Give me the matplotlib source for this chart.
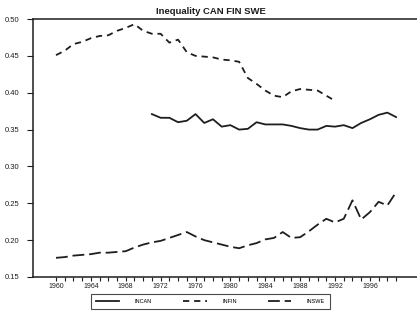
import matplotlib
matplotlib.use("Agg")
import matplotlib.pyplot as plt
from matplotlib.ticker import FixedLocator, MultipleLocator, FormatStrFormatter

plt.rcParams['font.family'] = ['Liberation Sans', 'DejaVu Sans']
plt.rcParams['lines.scale_dashes'] = False

years_fin = list(range(1960, 1993))
fin = [0.451, 0.457, 0.466, 0.469, 0.474, 0.477, 0.478, 0.484, 0.488, 0.493,
       0.484, 0.480, 0.480, 0.468, 0.472, 0.455, 0.450, 0.449, 0.448, 0.445,
       0.444, 0.442, 0.420, 0.412, 0.403, 0.396, 0.394, 0.402, 0.405, 0.404,
       0.403, 0.396, 0.389]

years_can = list(range(1971, 2000))
can = [0.371, 0.366, 0.366, 0.360, 0.362, 0.371, 0.359, 0.364, 0.354, 0.356,
       0.350, 0.351, 0.360, 0.357, 0.357, 0.357, 0.355, 0.352, 0.350, 0.350,
       0.355, 0.354, 0.356, 0.352, 0.359, 0.364, 0.370, 0.373, 0.367]

years_swe = list(range(1960, 2000))
swe = [0.176, 0.177, 0.179, 0.180, 0.181, 0.183, 0.183, 0.184, 0.185, 0.190,
       0.194, 0.197, 0.199, 0.203, 0.207, 0.211, 0.205, 0.200, 0.197, 0.194,
       0.191, 0.189, 0.193, 0.196, 0.201, 0.203, 0.211, 0.203, 0.204, 0.212,
       0.221, 0.229, 0.224, 0.229, 0.254, 0.228, 0.238, 0.252, 0.247, 0.265]

major_years = list(range(1960, 1997, 4))
minor_years = list(range(1960, 2000))

fig = plt.figure(figsize=(4.17, 3.12), dpi=100)
ax = fig.add_axes([0.0791, 0.1122, 0.9209, 0.8268])

col = '#1e1e1e'
ax.plot(years_can, can, color=col, lw=1.3, label='INCAN')
ax.plot(years_fin, fin, color=col, lw=1.3, linestyle=(0, (4.5, 3.5)), label='INFIN')
ax.plot(years_swe, swe, color=col, lw=1.3, linestyle=(0, (8.5, 3.5)), label='INSWE')

ax.set_xlim(1957.36, 2001.4)
ax.set_ylim(0.15, 0.50)

ax.xaxis.set_major_locator(FixedLocator(major_years))
ax.xaxis.set_minor_locator(FixedLocator(minor_years))
ax.yaxis.set_major_locator(MultipleLocator(0.05))
ax.yaxis.set_major_formatter(FormatStrFormatter('%.2f'))

ax.tick_params(axis='x', which='both', direction='out', length=3, width=0.8,
               labelsize=5, pad=1.5, colors=col)
ax.tick_params(axis='y', which='major', direction='out', length=4, width=0.8,
               labelsize=5.5, pad=6, colors=col)

ax.spines['right'].set_visible(False)
for s in ['left', 'bottom', 'top']:
    ax.spines[s].set_linewidth(1.1)
    ax.spines[s].set_color(col)

fig.text(0.505, 0.963, 'Inequality CAN FIN SWE', ha='center', va='center',
         fontsize=6.8, fontweight='bold', color=col)

leg = fig.legend(loc='center', bbox_to_anchor=(0.505, 0.035), ncol=3,
                 fontsize=4, frameon=True, fancybox=False, edgecolor=col,
                 handlelength=4.2, handletextpad=2.8, columnspacing=5.6,
                 borderpad=0.9, borderaxespad=0)
leg.get_frame().set_linewidth(0.8)

fig.savefig('out.png', dpi=100)
